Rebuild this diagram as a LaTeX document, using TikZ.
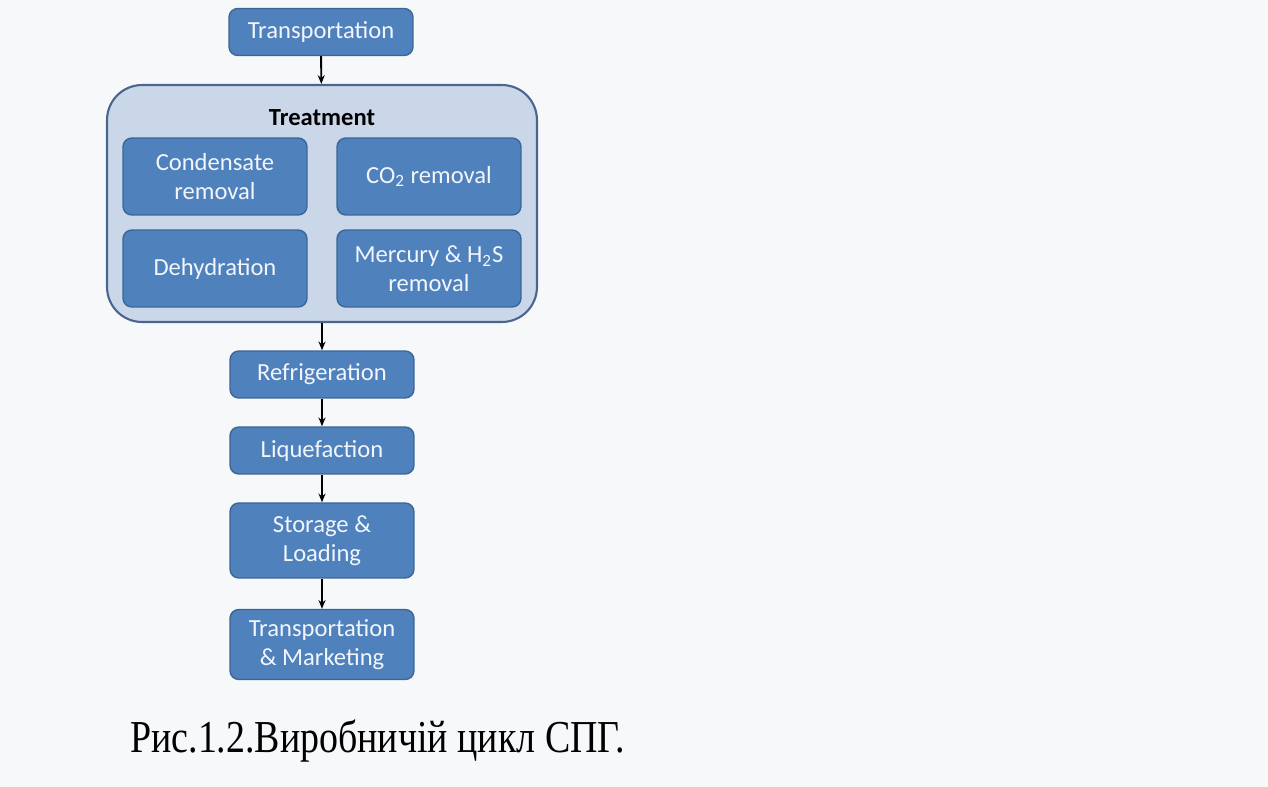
\documentclass[tikz,border=0pt]{standalone}
\usepackage{fontspec}
\usepackage{graphicx}
\setmainfont{Liberation Serif}
\newfontfamily\boxfont{Carlito}
\usetikzlibrary{positioning,arrows.meta}
\definecolor{cBg}{HTML}{F7F8FA}
\definecolor{cBox}{HTML}{4F81BD}
\definecolor{cBoxEdge}{HTML}{3B6597}
\definecolor{cTreat}{HTML}{CAD7E9}
\definecolor{cTreatEdge}{HTML}{4A6590}
\definecolor{cTxt}{HTML}{F2F5FA}

\begin{document}
\begin{tikzpicture}[x=0.02cm,y=-0.02cm,>={Stealth[length=5pt,width=4pt]},
  stage/.style={draw=cBoxEdge,fill=cBox,rounded corners=5pt,line width=0.8pt,
    minimum width=3.68cm,minimum height=0.94cm,inner sep=2pt,align=center,
    text=cTxt,font=\boxfont\fontsize{14}{16.5}\selectfont},
  substage/.style={stage,minimum height=1.54cm},
  flow/.style={->,line width=1.1pt,black}]
\useasboundingbox (0,0) rectangle (1268,787);
\fill[cBg] (0,0) rectangle (1268,787);
% top
\node[stage] (tr) at (321,32) {Transportation};
% treatment block
\node[draw=cTreatEdge,fill=cTreat,line width=1.2pt,rounded corners=0.7cm,
  minimum width=8.6cm,minimum height=4.74cm] (treat) at (322,203.5) {};
\node[font=\boxfont\bfseries\fontsize{14}{16}\selectfont] (treatlbl) at (322,118) {Treatment};
\node[substage] (cond) at (215,176.5) {Condensate\\removal};
\node[substage] (co2) at (429,176.5) {CO\textsubscript{2} removal};
\node[substage] (dehy) at (215,268.5) {Dehydration};
\node[substage] (merc) at (429,268.5) {Mercury \& H\textsubscript{2}S\\removal};
% lower chain
\node[stage] (refr) at (322,374.5) {Refrigeration};
\node[stage] (liq) at (322,450.5) {Liquefaction};
\node[stage,minimum height=1.5cm] (stor) at (322,540.5) {Storage \&\\Loading};
\node[stage,minimum height=1.4cm] (mkt) at (322,644.5) {Transportation\\\& Marketing};
\foreach \a/\b in {tr/treat,treat/refr,refr/liq,liq/stor,stor/mkt}{\draw[flow] (\a)--(\b);}
% caption
\node[anchor=base west,font=\fontsize{26}{30}\selectfont,inner sep=0pt] (cap) at (130,752) {\scalebox{0.83}[1]{Рис.1.2.Виробничій цикл СПГ.}};
\end{tikzpicture}
\end{document}
